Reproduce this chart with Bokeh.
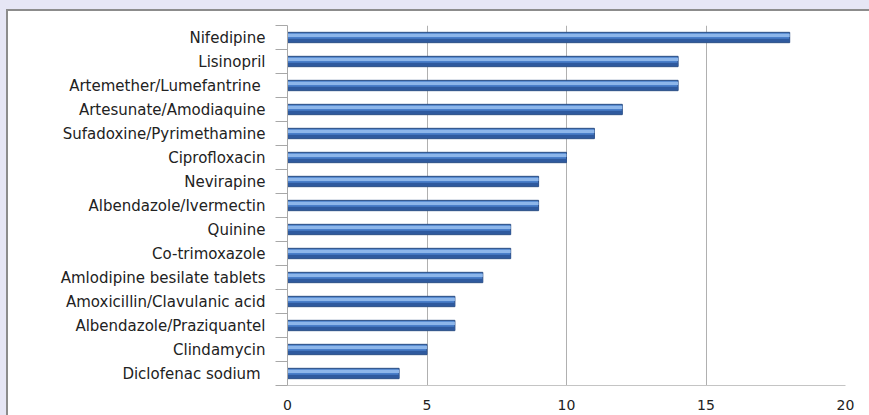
from bokeh.plotting import figure
from bokeh.models import Range1d, FixedTicker, ColumnDataSource
from bokeh.transform import dodge
from bokeh.embed import file_html
from bokeh.resources import INLINE

drugs = ["Nifedipine", "Lisinopril", "Artemether/Lumefantrine ", "Artesunate/Amodiaquine",
         "Sufadoxine/Pyrimethamine", "Ciprofloxacin", "Nevirapine", "Albendazole/Ivermectin",
         "Quinine", "Co-trimoxazole", "Amlodipine besilate tablets", "Amoxicillin/Clavulanic acid",
         "Albendazole/Praziquantel", "Clindamycin", "Diclofenac sodium "]
counts = [18, 14, 14, 12, 11, 10, 9, 9, 8, 8, 7, 6, 6, 5, 4]
x_ticks = [0, 5, 10, 15, 20]

n = len(drugs)
pos = [n - 1 - i for i in range(n)]
src = ColumnDataSource(dict(y=pos, count=counts, name=drugs))

FONT = "DejaVu Sans"
LAV = "#E6E6F5"
EDGE = "#8C8C8C"

p = figure(width=869, height=415, x_range=Range1d(0, 20), y_range=Range1d(-0.5, n - 0.5),
           output_backend="svg", toolbar_location=None,
           min_border_left=287, min_border_right=24, min_border_top=25, min_border_bottom=30,
           border_fill_color="white", border_fill_alpha=0.0,
           background_fill_color="white", outline_line_color=None)
# white chart area with grey left/top edge inside a lavender surround
p.styles = {"background-color": "white", "overflow": "hidden",
            "box-shadow": f"inset 6px 9px 0 0 {LAV}, inset 8px 11px 0 0 {EDGE}"}

p.xgrid.ticker = FixedTicker(ticks=x_ticks)
p.xgrid.grid_line_color = "#B0B0B0"
p.ygrid.visible = False

xa = p.xaxis[0]
xa.ticker = FixedTicker(ticks=x_ticks)
xa.axis_line_color = "#C4C4C4"
xa.major_tick_out = 0
xa.major_tick_in = 0
xa.minor_tick_line_color = None
xa.major_label_standoff = 14
xa.major_label_text_font = FONT
xa.major_label_text_font_size = "14px"
xa.major_label_text_color = "#222222"

ya = p.yaxis[0]
ya.ticker = FixedTicker(ticks=pos, minor_ticks=[k - 0.5 for k in range(n + 1)])
ya.major_label_overrides = {pos[i]: drugs[i] for i in range(n)}
ya.major_tick_out = 0
ya.major_tick_in = 0
ya.minor_tick_out = 12
ya.minor_tick_in = 0
ya.minor_tick_line_color = "#A8A8A8"
ya.axis_line_color = "#A8A8A8"
ya.major_label_standoff = 10
ya.major_label_text_font = FONT
ya.major_label_text_font_size = "15px"
ya.major_label_text_color = "#222222"

# bars: base, dark lower band, light upper highlight
p.hbar(y="y", left=0, right="count", height=0.43, source=src,
       fill_color="#4A7FCA", line_color="#2A4C82", line_width=1)
p.hbar(y=dodge("y", -0.12, range=p.y_range), left=0, right="count", height=0.14, source=src,
       fill_color="#2F5A9E", line_color=None)
p.hbar(y=dodge("y", 0.09, range=p.y_range), left=0, right="count", height=0.13, source=src,
       fill_color="#8DB6EA", line_color=None)

open("out.html", "w").write(file_html(p, INLINE))
